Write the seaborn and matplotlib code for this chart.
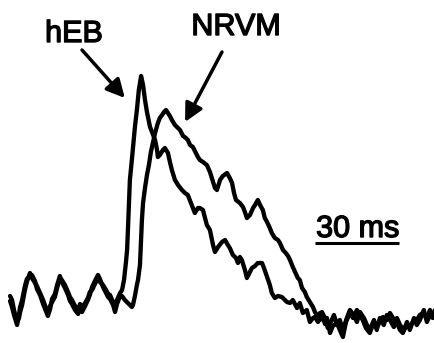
import matplotlib
matplotlib.use("Agg")
import matplotlib.pyplot as plt
import matplotlib.patheffects as pe
import seaborn as sns
import pandas as pd

# ---- data (time in ms, amplitude in arbitrary units) ----
t_base = [3.6, 4.3, 5.0, 6.1, 6.8, 7.1, 7.9, 8.9, 9.6, 10.7,
          11.4, 12.5, 13.2, 14.3, 15.4, 16.4, 17.1, 17.9, 18.6, 19.6,
          20.4, 21.4, 22.1, 23.2, 24.3, 25.0, 25.7, 26.8, 27.9, 28.6,
          29.3, 30.4, 31.4, 32.1, 32.9, 33.9, 35.0, 35.7, 36.8, 37.9,
          38.6, 39.3, 40.4, 41.1, 41.8, 42.9]
heb_base = [1.6, 0, -4, -8.8, -7.2, -5.2, -2, 4, 7.2, 10.8,
            8.8, 6.8, 5.6, 2.8, 0, -3.2, -5.2, -2.4, -0.8, 1.2,
            4.8, 8.8, 8, 6, 3.2, 1.2, 0, -2.4, -4, -1.6,
            -3.2, -1.2, 0.8, 3.2, 4, 6.4, 8.8, 7.2, 6, 4,
            2.4, 2, -0.8, -3.2, 0, 2.8]
nrvm_base = [-0.4, -2.8, -6, -10, -6, -3.2, 0, 5.6, 8.4, 9.6,
             10, 7.6, 4.4, 2, -1.6, -4.4, -6.4, -3.6, 0.4, 2.4,
             6, 9.6, 7.2, 4.8, 2, -0.4, -1.6, -4, -5.6, -2.8,
             -4.8, -2.4, 0, 2, 5.2, 7.6, 10, 8.4, 5.2, 2.8,
             1.2, 0.4, -2, -4.8, -1.6, 1.6]

t_heb = [43.6, 44.3, 45.0, 45.4, 45.7, 46.1, 46.4, 47.1, 48.2, 48.9,
         49.6, 50.4, 51.1, 51.8, 52.5, 53.6, 54.3, 55.4, 56.1, 56.4,
         57.1, 58.2, 58.9, 60.0, 60.7, 61.4, 62.5, 63.6, 65.0, 66.1,
         67.1, 68.2, 69.6, 70.7, 71.4, 72.5, 73.9, 75.0, 76.1, 76.8,
         77.9, 79.3, 80.4, 81.4, 82.1, 83.2, 84.3, 85.0, 85.7, 86.4,
         87.5, 88.2, 89.3, 90.0, 91.1, 92.1, 93.6, 94.3, 95.4, 96.4,
         97.1, 98.2, 99.3, 100.7, 101.8, 102.5, 103.6, 104.6, 106.1, 107.1,
         108.2, 109.6, 110.7, 111.8, 112.5,
         113.6, 114.3, 115.4, 116.1, 116.8, 117.9, 118.9, 120.4, 121.4, 122.5,
         123.6, 125.0, 126.1, 127.5, 128.6, 129.6, 130.7, 132.1, 133.2, 134.6,
         135.7, 136.8, 138.2, 139.3, 140.4, 141.8, 142.9, 143.9, 145.0, 146.4,
         147.5, 148.9, 150.0, 151.1, 152.5, 153.6, 154.6, 155.4]
heb_resp = [4, 8, 15.2, 20, 28, 40, 48, 56, 69.2, 76,
            84, 89.6, 86, 80, 75.2, 69.2, 67.2, 64, 60, 57.2,
            58, 60, 60.8, 58.8, 55.2, 52, 48, 46, 44, 42.8,
            42, 38.8, 34.8, 36.8, 36.8, 36, 30, 28, 22, 19.2,
            21.2, 23.2, 24, 22, 20.8, 18, 16.8, 14.8, 17.2, 16,
            12, 8.8, 11.2, 12.8, 13.6, 14.8, 14.8, 12.8, 9.2, 6,
            2.8, 0.8, 1.6, 1.2, 0, -0.8, -1.2, 0, -3.2, -1.2,
            -5.2, -4, -8.8, -7.2, -6.8,
            -8.8, -5.2, -7.2, -9.6, -7.2, -13.2, -10.4, -9.2, -12, -14.8,
            -8.8, -5.2, -7.2, -4, -6.4, -8, -11.2, -13.2, -10, -10.8,
            -8.8, -6.8, -8, -5.2, -7.2, -9.2, -12, -13.2, -10.4, -10.8,
            -8.8, -8, -6, -5.2, -7.2, -4, -6, -5.2]

t_nrvm = [43.6, 44.6, 45.7, 46.4, 47.1, 47.5, 48.2, 48.9, 49.3, 50.0,
          50.4, 50.7, 51.1, 51.8, 52.5, 53.2, 53.9, 54.6, 55.4, 56.1,
          56.4, 57.1, 57.9, 58.6, 59.3, 60.0, 60.7, 61.4, 62.5, 63.6,
          64.3, 65.4, 66.4, 67.1, 67.9, 68.9, 70.0, 70.7, 71.4, 72.5,
          73.9, 75.0, 76.1, 76.8, 77.5, 78.6, 79.6, 81.1, 82.1, 82.9,
          83.6, 84.3, 85.7, 86.8, 87.5, 88.2, 89.3, 90.4, 91.1, 92.1,
          92.9, 93.9, 94.6, 95.4, 96.4, 97.1, 98.2, 99.3, 100.0, 101.1,
          102.1, 102.9, 103.6, 104.6, 105.4, 106.4, 107.1, 107.9, 108.9, 109.6,
          110.7, 111.8, 112.5, 113.6,
          114.3, 115.0, 116.1, 117.1, 118.2, 119.3, 120.4, 121.4, 122.5, 123.9,
          125.0, 126.4, 127.5, 128.6, 130.0, 131.1, 132.1, 133.6, 134.6, 135.7,
          137.1, 138.2, 139.3, 140.7, 141.8, 142.9, 144.3, 145.4, 146.4, 147.9,
          148.9, 150.0, 151.4, 152.5, 153.6, 154.6, 155.4]
nrvm_resp = [1.6, 0, -1.2, -2, -2.8, -2, 1.6, 6, 8, 14,
             24, 32, 38.8, 44.8, 50, 54, 59.2, 62.8, 66.8, 69.6,
             70.8, 72.8, 74, 75.2, 76, 74.8, 73.6, 72, 70, 68.8,
             68, 65.6, 64.8, 64, 62, 61.2, 58.8, 57.2, 56, 55.2,
             54, 51.2, 47.2, 44.8, 44, 48, 49.6, 50.8, 48.8, 46.8,
             42.8, 40, 38.8, 37.2, 35.2, 32.8, 34, 36.8, 38, 40,
             38, 36, 32.8, 31.2, 28.8, 26.8, 24.8, 24, 22.8, 20,
             18.8, 17.6, 16, 13.2, 11.2, 8.8, 8, 4.8, 3.2, 1.2,
             -0.8, -2.8, -4.8, -6.8,
             -8, -4.8, -7.2, -11.2, -8.8, -6, -10, -8, -12, -7.2,
             -4, -6, -8.8, -4.8, -7.2, -10, -12, -8, -12, -7.2,
             -10, -6, -8, -10.8, -7.2, -10, -12, -8.8, -12, -7.2,
             -10, -8, -4, -8.8, -6, -7.2, -4]

labels = ["hEB", "NRVM"]
scale_ms = 30

# ---- build table ----
df = pd.concat([
    pd.DataFrame({"time": t_base + t_heb, "amp": heb_base + heb_resp, "cell": labels[0]}),
    pd.DataFrame({"time": t_base + t_nrvm, "amp": nrvm_base + nrvm_resp, "cell": labels[1]}),
], ignore_index=True)

sns.set_style("white")
plt.rcParams["font.family"] = ["Liberation Sans", "DejaVu Sans"]

fig = plt.figure(figsize=(4.35, 3.43), dpi=100)
ax = fig.add_axes([0, 0, 1, 1])
sns.lineplot(data=df, x="time", y="amp", hue="cell", units="cell", estimator=None,
             sort=False, palette=["black", "black"], linewidth=3.1, legend=False, ax=ax)

ax.set_xlim(0, 155.4)
ax.set_ylim(-17.2, 120)
ax.axis("off")

# labels + arrows
txt = dict(fontsize=22, ha="center", va="baseline", color="black",
           path_effects=[pe.withStroke(linewidth=1.0, foreground="black")])
ax.text(26.4, 103.2, labels[0], **txt)
ax.text(84.3, 106.0, labels[1], **txt)
arrow = dict(arrowstyle="-|>,head_length=0.55,head_width=0.28", lw=2.5, color="black",
             mutation_scale=20, shrinkA=0, shrinkB=0)
ax.annotate("", xy=(44.6, 80.8), xytext=(29.3, 100.0), arrowprops=arrow)
ax.annotate("", xy=(66.1, 71.2), xytext=(79.3, 99.2), arrowprops=arrow)

# scale bar
x0 = 112.5
ax.plot([x0, x0 + scale_ms], [22.8, 22.8], color="black", lw=2.2, solid_capstyle="butt")
ax.text(x0 + scale_ms / 2 + 0.3, 25.2, f"{scale_ms} ms", **txt)

fig.savefig("out.png", dpi=100, facecolor="white")
